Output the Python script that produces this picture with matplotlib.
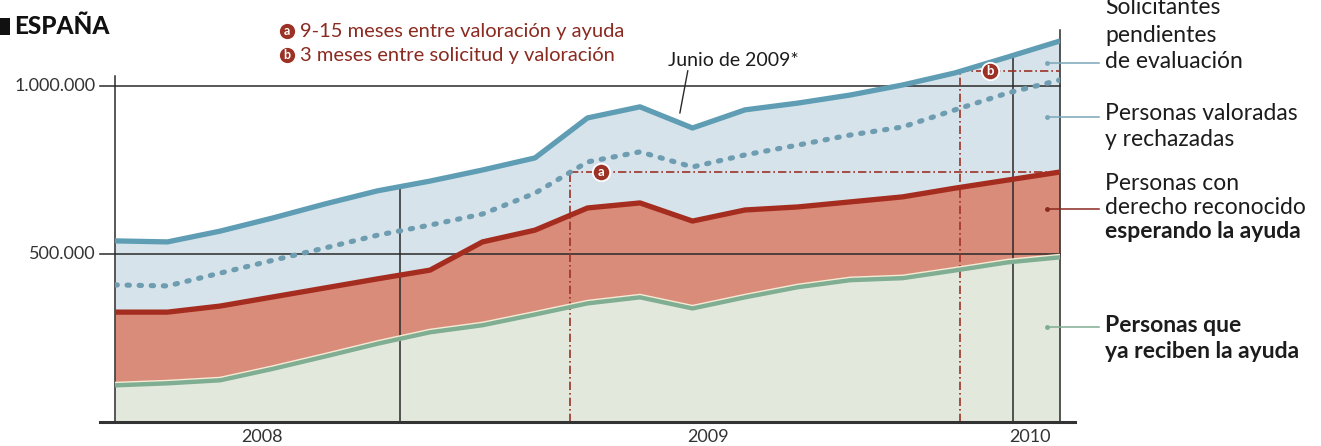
import numpy as np
import matplotlib
matplotlib.use("Agg")
import matplotlib.pyplot as plt
from matplotlib.patches import Rectangle
import matplotlib.transforms as mtransforms

# ---------------- data ----------------
meses = ["jul 2008", "ago 2008", "sep 2008", "oct 2008", "nov 2008", "dic 2008",
         "ene 2009", "feb 2009", "mar 2009", "abr 2009", "may 2009", "jun 2009",
         "jul 2009", "ago 2009", "sep 2009", "oct 2009", "nov 2009", "dic 2009",
         "ene 2010"]
# Solicitantes (total, incl. pendientes de evaluación)
solicitantes = [539000, 536000, 568000, 607000, 649000, 688000, 717000, 750000,
                786000, 905000, 938000, 875000, 929000, 949000, 973000, 1003000,
                1039000, 1086000, 1134000]
# Personas valoradas (línea punteada)
valoradas = [408000, 405000, 443000, 481000, 518000, 556000, 586000, 619000,
             681000, 774000, 804000, 759000, 795000, 824000, 854000, 878000,
             929000, 979000, 1018000]
# Personas con derecho reconocido (total)
derecho = [327000, 327000, 345000, 372000, 399000, 426000, 452000, 536000,
           571000, 637000, 652000, 598000, 631000, 640000, 655000, 670000,
           696000, 720000, 744000]
# Personas que ya reciben la ayuda
reciben = [110000, 116000, 125000, 159000, 196000, 234000, 268000, 289000,
           321000, 354000, 372000, 339000, 372000, 402000, 423000, 429000,
           452000, 476000, 491000]

anios = ["2008", "2009", "2010"]
ytick_vals = [500000, 1000000]
ytick_labels = ["500.000", "1.000.000"]
leyenda = [("a", "9-15 meses entre valoración y ayuda"),
           ("b", "3 meses entre solicitud y valoración")]
nota = "Junio de 2009*"
titulo = "ESPAÑA"

# ---------------- style ----------------
BLUE_FILL = "#d6e3ea"
BLUE_LINE = "#5e9db3"
DOT_LINE = "#6e9cb0"
RED_FILL = "#d98c7a"
RED_LINE = "#a52d1f"
GREEN_FILL = "#e3e8dd"
GREEN_LINE = "#7fae92"
DARKRED = "#9c3226"
TXT = "#1c1c1c"

W, H = 1321, 446
plt.rcParams['font.family'] = ['Lato', 'DejaVu Sans']
fig = plt.figure(figsize=(W / 100, H / 100), dpi=100)
fig.patch.set_facecolor("white")

ax = fig.add_axes([115 / W, 24 / H, 945 / W, 420 / H])
ax.set_xlim(0, len(meses) - 1)
ax.set_ylim(0, 1.25e6)
ax.axis("off")

x = np.arange(len(meses))

ax.fill_between(x, 0, reciben, color=GREEN_FILL, lw=0, zorder=1)
ax.fill_between(x, reciben, derecho, color=RED_FILL, lw=0, zorder=1)
ax.fill_between(x, derecho, solicitantes, color=BLUE_FILL, lw=0, zorder=1)

# horizontal grid lines + labels
for v, lbl in zip(ytick_vals, ytick_labels):
    ax.plot([-0.29, x[-1]], [v, v], color="#2a2a2a", lw=1.1, clip_on=False, zorder=2.2)
    ax.text(-0.36, v, lbl, ha="right", va="center", fontsize=13, color="#333333")

# vertical separators
sep_x = [5.43, 17.1]
ax.plot([0, 0], [0, 1.03e6], color="#2a2a2a", lw=1.1, clip_on=False, zorder=2.3)
ax.plot([x[-1], x[-1]], [0, 1.167e6], color="#2a2a2a", lw=1.1, clip_on=False, zorder=2.3)
for sx in sep_x:
    top = np.interp(sx, x, solicitantes)
    ax.plot([sx, sx], [0, top], color="#2a2a2a", lw=1.1, zorder=2.3)

# reference dash-dot lines (a) and (b)
xa, xb = 8.67, 16.1
a_level = np.interp(xa, x, valoradas)
b_level = np.interp(xb, x, solicitantes)
dd = (0, (5, 1.8, 1, 1.8))
for (px, lvl) in [(xa, a_level), (xb, b_level)]:
    ax.plot([px, px], [0, lvl], color=DARKRED, lw=1.2, linestyle=dd, zorder=2.6)
    ax.plot([px, x[-1]], [lvl, lvl], color=DARKRED, lw=1.2, linestyle=dd, zorder=2.6)

# series lines
ax.plot(x, reciben, color=GREEN_LINE, lw=3.6, zorder=3, solid_capstyle="butt")
hl = mtransforms.offset_copy(ax.transData, fig=fig, x=0, y=2.6, units="dots")
ax.plot(x, reciben, color="#f4ebd5", lw=1.0, zorder=3.1, transform=hl)
ax.plot(x, derecho, color=RED_LINE, lw=3.8, zorder=3, solid_capstyle="butt")
ax.plot(x, valoradas, color=DOT_LINE, lw=3.7, linestyle=(0, (0.45, 1.9)),
        dash_capstyle="round", zorder=3)
ax.plot(x, solicitantes, color=BLUE_LINE, lw=3.8, zorder=3, solid_capstyle="butt")

# baseline
ax.plot([-0.29, x[-1] + 0.29], [0, 0], color="#333333", lw=2.2, clip_on=False, zorder=5)

# a / b markers on the chart
for (mx, lvl, letter) in [(9.26, a_level, "a"), (16.67, b_level, "b")]:
    ax.plot([mx], [lvl], marker="o", ms=12.5, mfc=DARKRED, mec="white", mew=1.3, zorder=6)
    ax.text(mx, lvl, letter, color="white", fontsize=9.5, fontweight="bold",
            ha="center", va="center", zorder=7)

# "Junio de 2009*" leader
ax.plot([10.91, 10.76], [1.045e6, 0.92e6], color="#2a2a2a", lw=1.0, zorder=6)

# year labels
for lbl, px in zip(anios, [2.8, 11.3, 17.43]):
    ax.text(px, -44000, lbl, ha="center", va="center", fontsize=13, color="#333333",
            clip_on=False)

# ---------------- overlay in pixel coordinates ----------------
ov = fig.add_axes([0, 0, 1, 1])
ov.set_xlim(0, W)
ov.set_ylim(H, 0)
ov.axis("off")

ov.add_patch(Rectangle((0, 18), 10, 17, color="#111111", lw=0))
ov.text(14, 27, titulo, fontsize=17.5, fontweight="black", color="#111111",
        ha="left", va="center")

for i, (letter, txt) in enumerate(leyenda):
    yy = 31 + 24 * i
    ov.plot([287], [yy], marker="o", ms=12, mfc=DARKRED, mec="white", mew=1.0)
    ov.text(287, yy, letter, color="white", fontsize=9, fontweight="bold",
            ha="center", va="center")
    ov.text(300, yy, txt, color="#8a2a20", fontsize=14.5, ha="left", va="center")

ov.text(668, 60, nota, fontsize=14, color=TXT, ha="left", va="center")

# right-side labels
grupos = [
    ([("Solicitantes", False), ("pendientes", False), ("de evaluación", False)], [8, 35, 61], 63, "#7aa6b9"),
    ([("Personas valoradas", False), ("y rechazadas", False)], [114, 140], 117, "#7aa6b9"),
    ([("Personas con", False), ("derecho reconocido", False), ("esperando la ayuda", True)], [183, 208, 232], 209, "#8a2a20"),
    ([("Personas que", True), ("ya reciben la ayuda", True)], [326, 352], 327, GREEN_LINE),
]
for lines, ys, ly, col in grupos:
    for (t, b), yy in zip(lines, ys):
        ov.text(1105, yy, t, fontsize=16.5, fontweight="bold" if b else "normal",
                color=TXT, ha="left", va="center")
    ov.plot([1047, 1099], [ly, ly], color=col, lw=1.1)
    ov.plot([1047], [ly], marker="o", ms=2.5, color=col)

fig.savefig("out.png", dpi=100, facecolor="white")
